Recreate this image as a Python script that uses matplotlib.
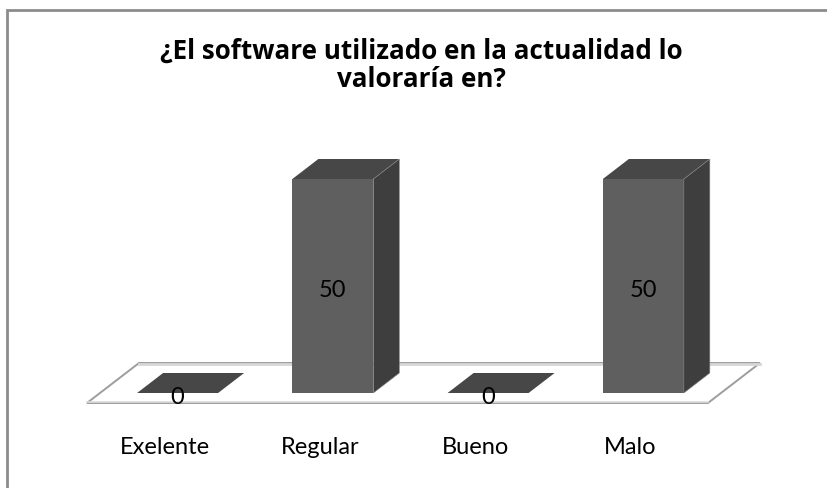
import matplotlib
matplotlib.use('Agg')

import matplotlib.pyplot as plt
from matplotlib.patches import Polygon, Rectangle

# data
categories = ['Exelente', 'Regular', 'Bueno', 'Malo']
values = [0, 50, 0, 50]
title_lines = ['¿El software utilizado en la actualidad lo', 'valoraría en?']

plt.rcParams['font.family'] = ['Lato', 'DejaVu Sans']

W, H = 828, 488
fig = plt.figure(figsize=(W / 100, H / 100), dpi=100)
ax = fig.add_axes([0, 0, 1, 1])

# mapping of the front bar plane (pixels)
x0_px, step_px = 177.6, 155.25
y0_px, px_per_unit = 393.0, 4.28
ax.set_xlim(-x0_px / step_px, (W - x0_px) / step_px)
ax.set_ylim((y0_px - H) / px_per_unit, y0_px / px_per_unit)
ax.axis('off')

# depth of the floor (full) and of the bars (half), in data units
ddx = 52 / step_px
ddy = 40 / px_per_unit
bdx, bdy = ddx / 2, ddy / 2
bar_w = 81 / step_px

front_c = '#5f5f5f'
side_c = '#3e3e3e'
top_c = '#474747'

n = len(categories)
xs = list(range(n))

# floor
fl = [(-0.5 - 0.25 * ddx, -0.25 * ddy), (n - 0.5 - 0.25 * ddx, -0.25 * ddy),
      (n - 0.5 + 0.75 * ddx, 0.75 * ddy), (-0.5 + 0.75 * ddx, 0.75 * ddy)]
ax.add_patch(Polygon(fl, closed=True, facecolor='white', edgecolor='#9d9d9d',
                     linewidth=1.4, zorder=1))
ax.plot([fl[3][0], fl[2][0]], [fl[3][1] - 0.35, fl[2][1] - 0.35],
        color='#d6d6d6', linewidth=2, zorder=1.5)
ax.plot([fl[0][0], fl[1][0]], [fl[0][1] + 0.35, fl[1][1] + 0.35],
        color='#dcdcdc', linewidth=1.2, zorder=1.5)

# bars: front face through ax.bar, side and top faces from the same values
ax.bar(xs, values, width=bar_w, color=front_c, linewidth=0, zorder=3)
for x, v in zip(xs, values):
    l, r = x - bar_w / 2, x + bar_w / 2
    top = [(l, v), (r, v), (r + bdx, v + bdy), (l + bdx, v + bdy)]
    ax.add_patch(Polygon(top, closed=True, facecolor=top_c, edgecolor='none', zorder=3))
    if v > 0:
        side = [(r, 0), (r + bdx, bdy), (r + bdx, v + bdy), (r, v)]
        ax.add_patch(Polygon(side, closed=True, facecolor=side_c,
                             edgecolor='#8a8a8a', linewidth=0.4, zorder=3))
    ax.annotate(str(v), (x, v / 2), xytext=(0, -3), textcoords='offset points',
                ha='center', va='center', fontsize=17, color='black', zorder=5)

# category labels, centred on the front edge of the floor
for x, c in zip(xs, categories):
    ax.text(x - 0.25 * ddx, (y0_px - 454) / px_per_unit, c, ha='center', va='baseline',
            fontsize=17, color='black')

# title, two lines
for line, base_px in zip(title_lines, [59, 87]):
    fig.text(421 / W, 1 - base_px / H, line, ha='center', va='baseline',
             fontsize=18.7, fontweight='bold', family=['Open Sans', 'DejaVu Sans'])

# chart border (only left and top visible)
fig.patches.append(Rectangle((7 / W, -0.1), 1.2, 1.1 - 10 / H, transform=fig.transFigure,
                             fill=False, edgecolor='#8c8c8c', linewidth=2))

fig.savefig('out.png', dpi=100)
